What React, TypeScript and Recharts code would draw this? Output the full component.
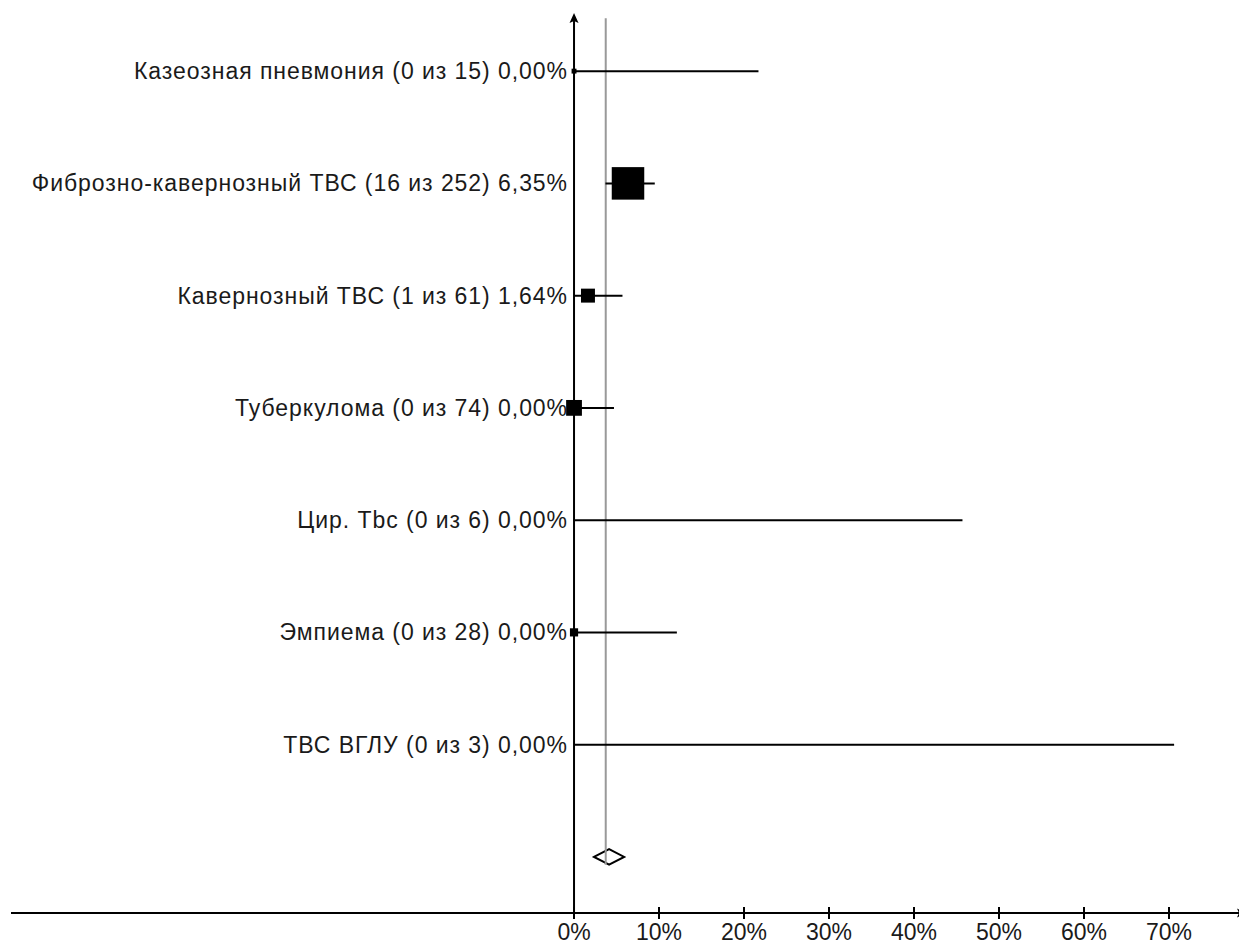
import React from 'react';
import {
    ScatterChart, Scatter, XAxis, YAxis, ErrorBar,
    ReferenceLine, ReferenceArea
} from 'recharts';

// rows of the forest plot, top to bottom
const groups = [
    'Казеозная пневмония',
    'Фиброзно-кавернозный ТВС',
    'Кавернозный ТВС',
    'Туберкулома',
    'Цир. Tbc',
    'Эмпиема',
    'ТВС ВГЛУ',
];
const events = [0, 16, 1, 0, 0, 0, 0];
const totals = [15, 252, 61, 74, 6, 28, 3];
const estimates = [0, 6.35, 1.64, 0, 0, 0, 0];
const ciLow = [0, 3.7, 0.04, 0, 0, 0, 0];
const ciHigh = [21.7, 9.5, 5.7, 4.7, 45.7, 12.1, 70.6];

// pooled estimate (diamond)
const pooledEst = 3.73;
const pooledLow = 2.35;
const pooledHigh = 5.9;

const xTicks = [0, 10, 20, 30, 40, 50, 60, 70];

const FONT = 'Arial, "Liberation Sans", sans-serif';

const fmt = (v: number) => v.toFixed(2).replace('.', ',');

const rows = groups.map((g, i) => ({
    x: estimates[i],
    y: i + 0.5,
    n: totals[i],
    err: [estimates[i] - ciLow[i], ciHigh[i] - estimates[i]],
}));

const labelRows = groups.map((g, i) => ({
    x: 0,
    y: i + 0.5,
    label: `${g} (${events[i]} из ${totals[i]}) ${fmt(estimates[i])}%`,
}));

const pooledRow = groups.length + 0.5;

const WeightSquare = (props: any) => {
    const { cx, cy, payload } = props;
    const side = Math.max(0, 2.3 * Math.sqrt(payload.n) - 4);
    if (!side) return <g />;
    return <rect x={cx - side / 2} y={cy - side / 2} width={side} height={side} fill="#000" />;
};

const RowLabel = (props: any) => {
    const { cx, cy, payload } = props;
    return (
        <text x={cx - 6} y={cy} textAnchor="end" dominantBaseline="central"
            fontFamily={FONT} fontSize={23} letterSpacing={0.95} fill="#1a1a1a">
            {payload.label}
        </text>
    );
};

const XTick = (props: any) => {
    const { x, y, payload } = props;
    return (
        <g>
            <line x1={x} y1={y - 6} x2={x} y2={y + 6} stroke="#000" strokeWidth={2} />
            <text x={x} y={y + 27} textAnchor="middle" fontFamily={FONT} fontSize={23} fill="#1a1a1a">
                {payload.value}%
            </text>
        </g>
    );
};

const VerticalAxis = (props: any) => {
    const { x1, y1, y2 } = props;
    const top = Math.min(y1, y2);
    const bottom = Math.max(y1, y2);
    return (
        <g>
            <line x1={x1} y1={top + 2} x2={x1} y2={bottom} stroke="#000" strokeWidth={2} />
            <path d={`M${x1},${top - 2} L${x1 - 4.5},${top + 8} L${x1},${top + 6} L${x1 + 4.5},${top + 8} Z`} fill="#000" />
        </g>
    );
};

const HorizontalAxis = (props: any) => {
    const { x1, x2, y1 } = props;
    const left = Math.min(x1, x2);
    const right = Math.max(x1, x2);
    return (
        <g>
            <line x1={left} y1={y1} x2={right - 2} y2={y1} stroke="#000" strokeWidth={2} />
            <path d={`M${right + 2},${y1} L${right - 8},${y1 - 4.5} L${right - 6},${y1} L${right - 8},${y1 + 4.5} Z`} fill="#000" />
        </g>
    );
};

const Diamond = (props: any) => {
    const { x, y, width, height } = props;
    const cx = x + width / 2;
    const cy = y + height / 2;
    return (
        <path d={`M${x},${cy} L${cx},${y} L${x + width},${cy} L${cx},${y + height} Z`}
            fill="#fff" stroke="#000" strokeWidth={2} />
    );
};

export default function App() {
    return (
        <div style={{ width: 1239, height: 936, background: '#fff' }}>
            <ScatterChart width={1239} height={936} margin={{ top: 7, right: 2, left: 3, bottom: 0 }}>
                <XAxis type="number" dataKey="x" domain={[-66.24, 78.94]} allowDataOverflow
                    ticks={xTicks} interval={0} axisLine={false} tickLine={false}
                    tickSize={0} tickMargin={0} height={31} tick={<XTick />} />
                <YAxis type="number" dataKey="y" domain={[0, 8]} reversed hide allowDataOverflow />

                <ReferenceLine x={0} stroke="#000" shape={<VerticalAxis />} ifOverflow="visible" />
                <ReferenceLine y={8} stroke="#000" shape={<HorizontalAxis />} ifOverflow="visible" />

                <ReferenceLine segment={[{ x: pooledEst, y: 0.03 }, { x: pooledEst, y: pooledRow + 0.07 }]}
                    stroke="#999" strokeWidth={2} ifOverflow="visible" />
                <ReferenceArea x1={pooledLow} x2={pooledHigh} y1={pooledRow - 0.07} y2={pooledRow + 0.07}
                    shape={<Diamond />} ifOverflow="visible" />

                <Scatter data={rows} shape={<WeightSquare />} isAnimationActive={false}>
                    <ErrorBar dataKey="err" direction="x" width={0} stroke="#000" strokeWidth={2} isAnimationActive={false} />
                </Scatter>
                <Scatter data={labelRows} shape={<RowLabel />} isAnimationActive={false} />
            </ScatterChart>
        </div>
    );
}
